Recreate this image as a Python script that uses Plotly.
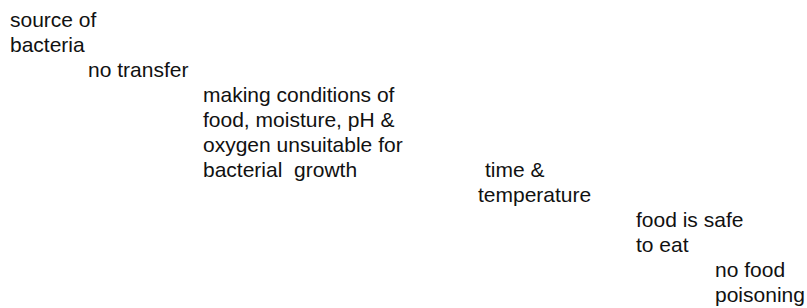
import plotly.graph_objects as go

# Text lines of the flow diagram, in reading order
lines = [
    "source of", "bacteria",
    "no transfer",
    "making conditions of", "food, moisture, pH &", "oxygen unsuitable for", "bacterial\u00a0 growth",
    "time &", "temperature",
    "food is safe", "to eat",
    "no food", "poisoning",
]
# left edge (x) and vertical centre (y) of each line, in pixel-like axis units
line_x = [9, 9, 87, 202, 202, 202, 202, 484, 477, 635, 635, 714, 714]
line_y = [19.5, 44.5, 69.5, 94.5, 119.5, 144.5, 169.5, 169.5, 194.5, 219.5, 244.5, 269.5, 294.5]

fig = go.Figure()
fig.add_trace(go.Scatter(x=[0, 807], y=[0, 308], mode="markers",
                         marker=dict(opacity=0), hoverinfo="skip", showlegend=False))
for t, x, y in zip(lines, line_x, line_y):
    fig.add_annotation(x=x, y=y, xref="x", yref="y", text=t, showarrow=False,
                       xanchor="left", yanchor="middle", borderpad=0,
                       font=dict(family="Liberation Sans, Arial", size=21, color="#111111"))

fig.update_xaxes(range=[0, 807], visible=False)
fig.update_yaxes(range=[308, 0], visible=False)
fig.update_layout(width=807, height=308, margin=dict(l=0, r=0, t=0, b=0),
                  plot_bgcolor="white", paper_bgcolor="white", showlegend=False)
fig.write_html("out.html", config={"displayModeBar": False},
               post_script="document.body.style.margin='0';")
